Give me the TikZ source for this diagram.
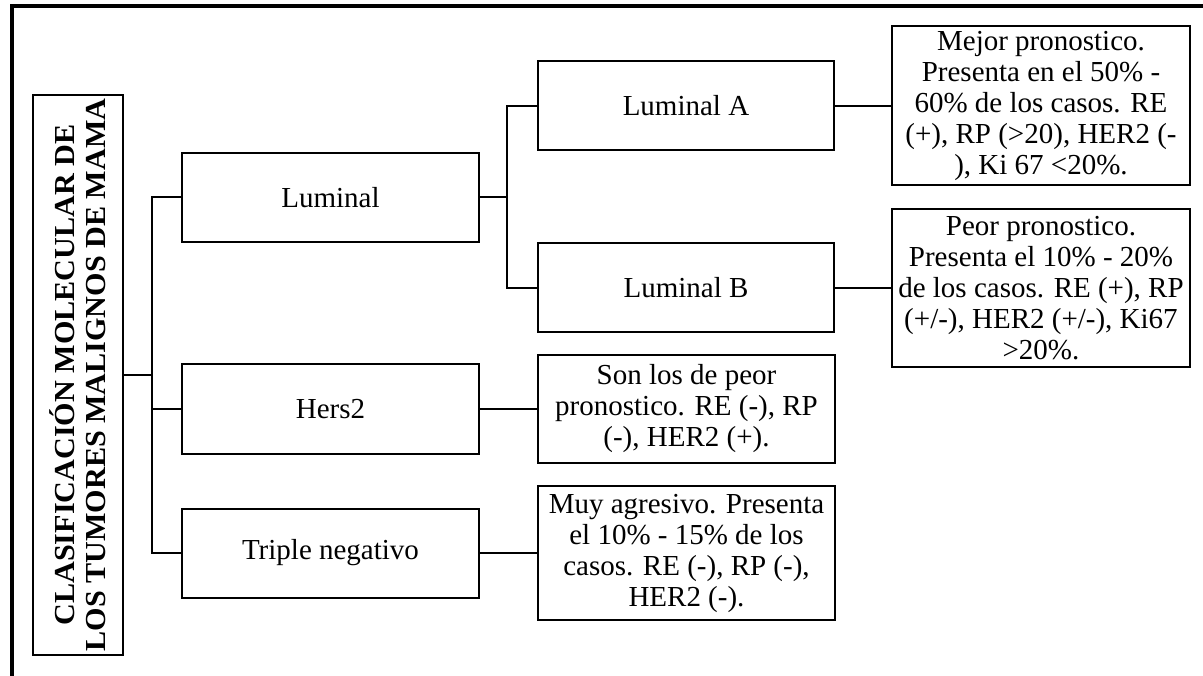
\documentclass[tikz,border=0pt]{standalone}
\usepackage{fontspec}
\setmainfont{Liberation Serif}
\begin{document}
\begin{tikzpicture}[x=1pt, y=-1pt,
    box/.style={draw, line width=2pt, minimum width=297pt, minimum height=89pt, inner sep=0pt, font=\fontsize{29}{31}\selectfont},
    info/.style={draw, line width=2pt, minimum width=298pt, align=center, inner sep=0pt, font=\fontsize{29}{31}\selectfont},
    link/.style={line width=2pt}]
    \useasboundingbox (0,0) rectangle (1203,676);

    % frame
    \draw[line width=4pt] (12,700) -- (12,6) -- (1220,6);

    \node[draw, line width=2pt, minimum width=90pt, minimum height=560pt] (title) at (78,375) {};
    \node[rotate=90, xscale=1.04, align=center, font=\fontsize{29}{31}\selectfont\bfseries] (titletext) at (title.center)
        {CLASIFICACIÓN MOLECULAR DE\\LOS TUMORES MALIGNOS DE MAMA};

    \node[box] (luminal) at (330.5,197.5) {Luminal};
    \node[box] (hers) at (330.5,409) {Hers2};
    \node[box] (triple) at (330.5,553) {Triple negativo};

    \node[box, minimum width=296pt] (lumA) at (686,106) {Luminal A};
    \node[box, minimum width=296pt] (lumB) at (686,288) {Luminal B};

    \node[info, minimum height=159pt] (lumAinfo) at (1041,106)
        {Mejor pronostico.\\Presenta en el 50\% -\\60\% de los casos. RE\\(+), RP (>20), HER2 (-\\), Ki 67 <20\%.};
    \node[info, minimum height=158pt] (lumBinfo) at (1041,288)
        {Peor pronostico.\\Presenta el 10\% - 20\%\\de los casos. RE (+), RP\\(+/-), HER2 (+/-), Ki67\\>20\%.};
    \node[info, minimum width=297pt, minimum height=107pt] (hersinfo) at (686.5,409)
        {Son los de peor\\pronostico. RE (-), RP\\(-), HER2 (+).};
    \node[info, minimum width=297pt, minimum height=134pt] (tripleinfo) at (686.5,553)
        {Muy agresivo. Presenta\\el 10\% - 15\% de los\\casos. RE (-), RP (-),\\HER2 (-).};

    % connectors
    \coordinate (j1) at (152,375);
    \coordinate (j2) at (507,197.5);
    \draw[link] (title.east) -- (j1);
    \draw[link] (luminal.west) -| (j1) |- (triple.west);
    \draw[link] (j1) |- (hers.west);
    \draw[link] (luminal.east) -- (j2);
    \draw[link] (lumA.west) -| (j2) |- (lumB.west);
    \draw[link] (lumA.east) -- (lumAinfo.west);
    \draw[link] (lumB.east) -- (lumBinfo.west);
    \draw[link] (hers.east) -- (hersinfo.west);
    \draw[link] (triple.east) -- (tripleinfo.west);
\end{tikzpicture}
\end{document}
